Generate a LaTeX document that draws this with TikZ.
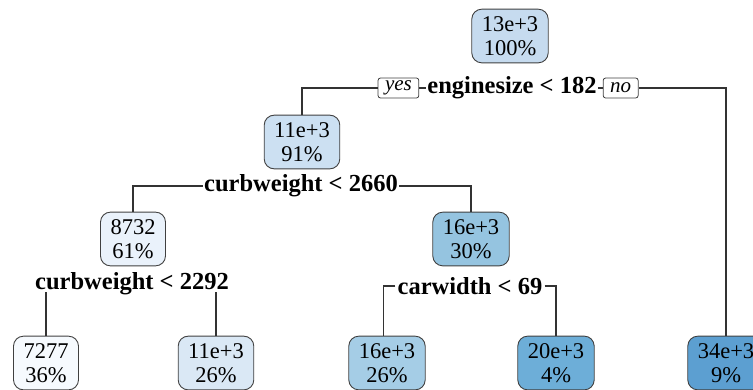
\documentclass[tikz,border=0pt]{standalone}
\usepackage{fontspec}
\setmainfont{Liberation Serif}
\begin{document}
\begin{tikzpicture}[x=1pt,y=-1pt,
  leaf/.style={draw=black!75, line width=0.9pt, rounded corners=10pt,
    align=center, inner xsep=10pt, inner ysep=7.5pt,
    font=\fontsize{22.5}{23.5}\selectfont},
  splitlab/.style={inner sep=1pt, font=\bfseries\fontsize{24.5}{26}\selectfont},
  yesno/.style={draw=black!75, line width=0.8pt, rounded corners=2.5pt, fill=white,
    inner xsep=7pt, inner ysep=1pt, minimum height=20pt,
    font=\itshape\fontsize{21}{22}\selectfont},
  branch/.style={draw=black!80, line width=1.1pt}
]
\definecolor{c100}{HTML}{C6DBEF}
\definecolor{c91}{HTML}{CCE0F2}
\definecolor{c61}{HTML}{EAF2FB}
\definecolor{c36}{HTML}{F6FAFE}
\definecolor{c26a}{HTML}{DAE8F5}
\definecolor{c30}{HTML}{95C4E0}
\definecolor{c26b}{HTML}{A5CDE6}
\definecolor{c4}{HTML}{6DAED8}
\definecolor{c9}{HTML}{5C9FD1}

\useasboundingbox (0,0) rectangle (753,389);
\clip (0,0) rectangle (753,389);

% tree nodes
\node[leaf, fill=c100] (root) at (510,36) {13e+3\\100\%};
\node[leaf, fill=c91]  (n2)   at (302,142) {11e+3\\91\%};
\node[leaf, fill=c61]  (n4)   at (133,239) {8732\\61\%};
\node[leaf, fill=c30]  (n5)   at (471,239) {16e+3\\30\%};
\node[leaf, fill=c36]  (l1)   at (46,363) {7277\\36\%};
\node[leaf, fill=c26a] (l2)   at (216,363) {11e+3\\26\%};
\node[leaf, fill=c26b] (l3)   at (387,363) {16e+3\\26\%};
\node[leaf, fill=c4]   (l4)   at (556,363) {20e+3\\4\%};
\node[leaf, fill=c9]   (l5)   at (726,363) {34e+3\\9\%};

% split labels
\node[splitlab] (s1) at (512,88) {enginesize < 182};
\node[yesno, anchor=east] (yes) at ([xshift=-7pt]s1.west) {yes};
\node[yesno, anchor=west] (no)  at ([xshift=5pt]s1.east) {no};
\node[splitlab] (s2) at (301,186) {curbweight < 2660};
\node[splitlab] (s3) at (132,284) {curbweight < 2292};
\node[splitlab] (s4) at (470,286) {carwidth < 69};

% branches
\draw[branch] (yes.west) -| (n2.north);
\draw[branch] (yes.east) -- (s1.west);
\draw[branch] (s1.east) -- (no.west);
\draw[branch] (no.east) -| (l5.north);

\draw[branch] (s2.west) -| (n4.north);
\draw[branch] (s2.east) -| (n5.north);

\draw[branch] ([yshift=4pt]l1.north |- s3.south) -- (l1.north);
\draw[branch] ([yshift=4pt]l2.north |- s3.south) -- (l2.north);

\draw[branch] ([xshift=-1pt]s4.west) -- ++(-12,0) coordinate (s4l) -- (s4l |- l3.north);
\draw[branch] ([xshift=1pt]s4.east) -| (l4.north);
\end{tikzpicture}
\end{document}
